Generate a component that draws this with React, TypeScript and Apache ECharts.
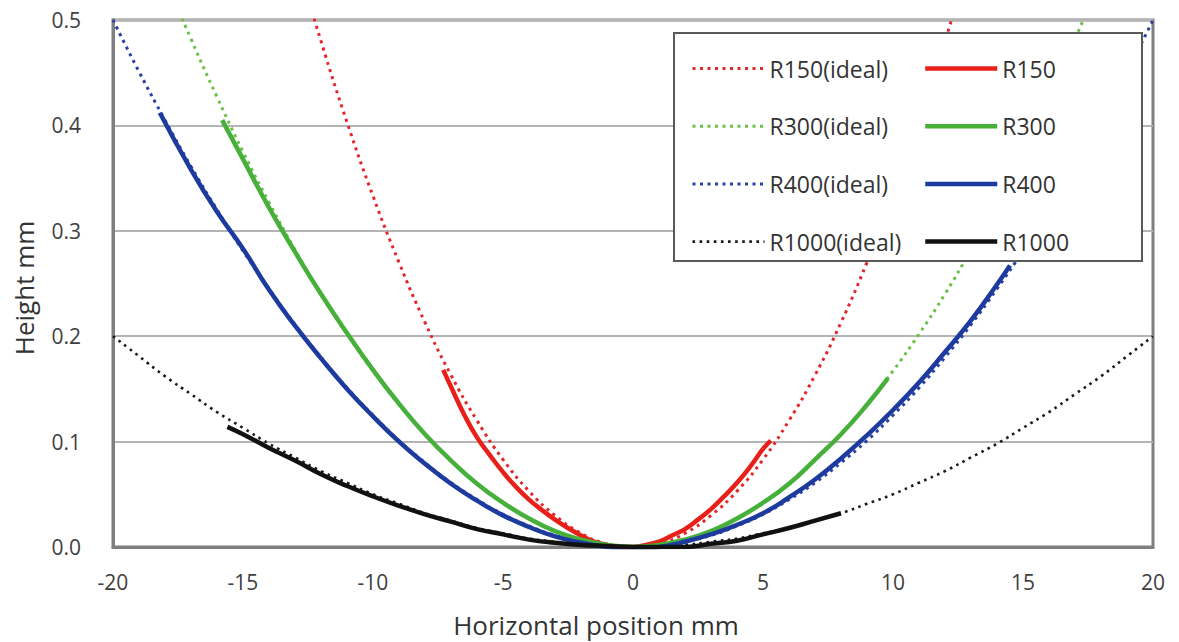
import React, { useEffect, useRef } from "react";
import * as echarts from "echarts";

const FONT = "'Open Sans', 'DejaVu Sans', sans-serif";

// x positions (mm) of the ideal curves
const idealX = [-20, -19, -18, -17, -16, -15, -14, -13, -12, -11, -10, -9, -8, -7, -6, -5, -4, -3, -2, -1, 0,
  1, 2, 3, 4, 5, 6, 7, 8, 9, 10, 11, 12, 13, 14, 15, 16, 17, 18, 19, 20];

const idealR150 = [1.333, 1.203, 1.08, 0.963, 0.853, 0.75, 0.653, 0.563, 0.48, 0.403, 0.333, 0.27, 0.213, 0.163, 0.12, 0.083, 0.053, 0.03, 0.013, 0.003, 0,
  0.003, 0.013, 0.03, 0.053, 0.083, 0.12, 0.163, 0.213, 0.27, 0.333, 0.403, 0.48, 0.563, 0.653, 0.75, 0.853, 0.963, 1.08, 1.203, 1.333];
const idealR300 = [0.667, 0.602, 0.54, 0.482, 0.427, 0.375, 0.327, 0.282, 0.24, 0.202, 0.167, 0.135, 0.107, 0.082, 0.06, 0.042, 0.027, 0.015, 0.007, 0.002, 0,
  0.002, 0.007, 0.015, 0.027, 0.042, 0.06, 0.082, 0.107, 0.135, 0.167, 0.202, 0.24, 0.282, 0.327, 0.375, 0.427, 0.482, 0.54, 0.602, 0.667];
const idealR400 = [0.5, 0.451, 0.405, 0.361, 0.32, 0.281, 0.245, 0.211, 0.18, 0.151, 0.125, 0.101, 0.08, 0.061, 0.045, 0.031, 0.02, 0.011, 0.005, 0.001, 0,
  0.001, 0.005, 0.011, 0.02, 0.031, 0.045, 0.061, 0.08, 0.101, 0.125, 0.151, 0.18, 0.211, 0.245, 0.281, 0.32, 0.361, 0.405, 0.451, 0.5];
const idealR1000 = [0.2, 0.181, 0.162, 0.145, 0.128, 0.113, 0.098, 0.085, 0.072, 0.061, 0.05, 0.041, 0.032, 0.025, 0.018, 0.013, 0.008, 0.005, 0.002, 0.001, 0,
  0.001, 0.002, 0.005, 0.008, 0.013, 0.018, 0.025, 0.032, 0.041, 0.05, 0.061, 0.072, 0.085, 0.098, 0.113, 0.128, 0.145, 0.162, 0.181, 0.2];

// measured profiles
const measR150X = [-7.3, -7, -6.5, -6, -5.5, -5, -4.5, -4, -3.5, -3, -2.5, -2, -1.5, -1, -0.5, 0, 0.5, 1, 1.5, 2, 2.5, 3, 3.5, 4, 4.5, 5, 5.3];
const measR150Y = [0.168, 0.152, 0.126, 0.104, 0.087, 0.071, 0.057, 0.045, 0.035, 0.026, 0.018, 0.011, 0.005, 0.002, 0, 0, 0.002, 0.005, 0.011, 0.017, 0.026, 0.036, 0.048, 0.061, 0.076, 0.093, 0.101];

const measR300X = [-15.8, -15, -14, -13, -12, -11, -10, -9, -8, -7, -6, -5, -4, -3, -2, -1, 0, 1, 2, 3, 4, 5, 6, 7, 8, 9, 9.8];
const measR300Y = [0.405, 0.368, 0.322, 0.28, 0.24, 0.203, 0.168, 0.136, 0.107, 0.082, 0.06, 0.042, 0.027, 0.015, 0.007, 0.002, 0, 0.002, 0.007, 0.015, 0.027, 0.042, 0.06, 0.083, 0.107, 0.135, 0.16];

const measR400X = [-18.2, -17, -16, -15, -14, -13, -12, -11, -10, -9, -8, -7, -6, -5, -4, -3, -2, -1, 0, 1, 2, 3, 4, 5, 6, 7, 8, 9, 10, 11, 12, 13, 14, 14.5];
const measR400Y = [0.412, 0.358, 0.318, 0.283, 0.244, 0.21, 0.179, 0.15, 0.124, 0.1, 0.079, 0.06, 0.044, 0.03, 0.019, 0.01, 0.004, 0, -0.002, 0, 0.005, 0.012, 0.021, 0.032, 0.047, 0.064, 0.084, 0.106, 0.13, 0.156, 0.185, 0.215, 0.249, 0.267];

const measR1000X = [-15.6, -15, -14, -13, -12, -11, -10, -9, -8, -7, -6, -5, -4, -3, -2, -1, 0, 1, 2, 3, 4, 5, 6, 7, 8];
const measR1000Y = [0.114, 0.107, 0.094, 0.082, 0.069, 0.058, 0.048, 0.039, 0.031, 0.024, 0.017, 0.012, 0.007, 0.004, 0.002, 0.001, 0, 0, 0, 0.003, 0.006, 0.012, 0.018, 0.025, 0.032];

const idealNames = ["R150(ideal)", "R300(ideal)", "R400(ideal)", "R1000(ideal)"];
const measNames = ["R150", "R300", "R400", "R1000"];

const zip = (xs: number[], ys: number[]) => xs.map((x, i) => [x, ys[i]]);

export default function App() {
  const ref = useRef<HTMLDivElement>(null);
  useEffect(() => {
    if (!ref.current) return;
    const chart = echarts.init(ref.current, null, { renderer: "svg" });

    const idealSeries = (name: string, ys: number[], color: string, w = 3) => ({
      name,
      type: "line",
      data: zip(idealX, ys),
      symbol: "none",
      smooth: true,
      clip: true,
      lineStyle: { color, width: w, type: [w, 4.5], cap: "butt" },
      itemStyle: { color },
      z: 2,
    });
    const measSeries = (name: string, xs: number[], ys: number[], color: string) => ({
      name,
      type: "line",
      data: zip(xs, ys),
      symbol: "none",
      smooth: true,
      clip: true,
      lineStyle: { color, width: 4.5 },
      itemStyle: { color },
      z: 2,
    });

    const legendBase = {
      orient: "vertical",
      top: 52,
      itemWidth: 72,
      itemHeight: 22,
      itemGap: 34.7,
      selectedMode: false,
      itemStyle: { color: "rgba(0,0,0,0)", borderColor: "rgba(0,0,0,0)", borderWidth: 0 },
      lineStyle: { width: "inherit" },
      textStyle: { fontSize: 23, color: "#333", fontFamily: FONT },
      z: 5,
    };

    chart.setOption({
      animation: false,
      backgroundColor: "#fff",
      grid: {
        left: 113,
        right: 26,
        top: 20,
        bottom: 95,
        show: true,
        borderColor: "#7f7f7f",
        borderWidth: 3,
      },
      xAxis: {
        type: "value",
        min: -20,
        max: 20,
        interval: 5,
        axisLine: { show: true, onZero: false, lineStyle: { color: "#7f7f7f", width: 3 } },
        axisTick: { show: false },
        splitLine: { show: false },
        axisLabel: { fontSize: 21, color: "#404040", fontFamily: FONT, margin: 24 },
      },
      yAxis: {
        type: "value",
        min: 0,
        max: 0.5,
        interval: 0.1,
        axisLine: { show: true, onZero: false, lineStyle: { color: "#7f7f7f", width: 3 } },
        axisTick: { show: false },
        splitLine: { show: true, lineStyle: { color: "#b4b4b4", width: 2 } },
        axisLabel: {
          fontSize: 21,
          color: "#404040",
          fontFamily: FONT,
          margin: 32,
          formatter: (v: number) => v.toFixed(1),
        },
      },
      legend: [
        { ...legendBase, left: 686, data: idealNames },
        { ...legendBase, left: 918, data: measNames },
      ],
      graphic: [
        {
          type: "rect",
          z: 3,
          shape: { x: 674, y: 33, width: 468, height: 228 },
          style: { fill: "#fff", stroke: "#595959", lineWidth: 2 },
        },
        {
          type: "text",
          x: 24,
          y: 288,
          rotation: Math.PI / 2,
          style: {
            text: "Height mm",
            fontSize: 26,
            fontFamily: FONT,
            fill: "#333",
            align: "center",
            verticalAlign: "middle",
          },
        },
        {
          type: "text",
          x: 596,
          y: 625,
          style: {
            text: "Horizontal position mm",
            fontSize: 26,
            fontFamily: FONT,
            fill: "#333",
            align: "center",
            verticalAlign: "middle",
          },
        },
      ],
      series: [
        idealSeries(idealNames[0], idealR150, "#e3262a"),
        idealSeries(idealNames[1], idealR300, "#6cc04a"),
        idealSeries(idealNames[2], idealR400, "#2b40a6"),
        idealSeries(idealNames[3], idealR1000, "#1a1a1a", 2.6),
        measSeries(measNames[0], measR150X, measR150Y, "#e8201a"),
        measSeries(measNames[1], measR300X, measR300Y, "#46b03a"),
        measSeries(measNames[2], measR400X, measR400Y, "#1d3b9e"),
        measSeries(measNames[3], measR1000X, measR1000Y, "#111111"),
      ],
    });
    return () => chart.dispose();
  }, []);
  return (
    <div
      ref={ref}
      style={{ position: "fixed", left: 0, top: 0, width: 1179, height: 642 }}
    />
  );
}
